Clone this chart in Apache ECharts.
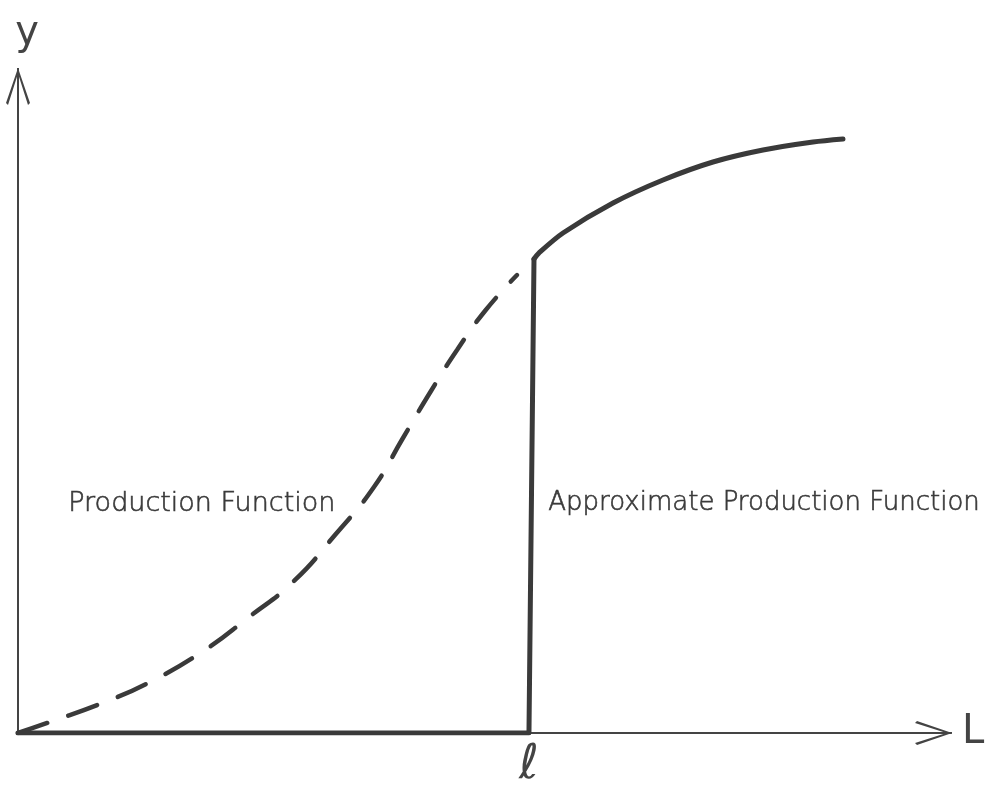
<!DOCTYPE html>
<html>
<head>
<meta charset="utf-8">
<script src="https://cdn.jsdelivr.net/npm/echarts@6/dist/echarts.min.js"></script>
<style>html,body{margin:0;padding:0;background:#fff}#c{width:1003px;height:795px}</style>
</head>
<body>
<div id="c"></div>
<script>
// Conceptual diagram: data units 0..100 on both axes
var xName = 'L';
var yName = 'y';
var ellLabel = 'ℓ';
var ellX = [56.9];
// S-shaped production function (dashed)
var prodX = [0, 3.56, 9.69, 14.70, 20.82, 25.72, 30.62, 35.30, 39.64, 42.87, 45.99, 48.89, 52.00, 55.57];
var prodY = [0, 1.75, 4.93, 8.11, 13.20, 18.44, 24.01, 31.48, 39.11, 46.90, 54.37, 60.89, 67.09, 72.81];
// Approximate production function: step part
var stepX = [0, 56.9, 57.46];
var stepY = [0, 0, 75.36];
// Approximate production function: concave part
var concX = [57.46, 58.0, 60.69, 66.26, 71.83, 77.39, 82.96, 88.53, 91.87];
var concY = [75.36, 76.3, 79.49, 84.26, 87.92, 90.78, 92.69, 93.96, 94.44];
var textLeft = 'Production Function';
var textRight = 'Approximate Production Function';

function zip(a, b) { return a.map(function (v, i) { return [v, b[i]]; }); }

var arrowPath = 'path://M11,0 L13,0 L13,72 L11,72 Z M12,0 L24,35 L22,37 L11.5,4 Z M12,0 L12.5,4 L2,37 L0,35 Z';
var ink = '#3a3a3a';
var axisInk = '#444';
var textInk = '#3a3a3a';
var font = 'DejaVu Sans';

var chart = echarts.init(document.getElementById('c'));
chart.setOption({
  animation: false,
  backgroundColor: '#fff',
  grid: { left: 18, right: 87, top: 104, bottom: 62 },
  xAxis: {
    type: 'value', min: 0, max: 100,
    name: xName, nameLocation: 'end', nameGap: 46,
    nameTextStyle: { fontFamily: font, fontSize: 40, color: axisInk, verticalAlign: 'middle' },
    axisLine: { show: true, symbol: ['none', arrowPath], symbolSize: [24, 72], lineStyle: { color: axisInk, width: 2 } },
    axisTick: { show: false },
    splitLine: { show: false },
    axisLabel: {
      show: true, customValues: ellX, formatter: function () { return ellLabel; },
      fontFamily: font, fontSize: 48, color: axisInk, margin: 9
    }
  },
  yAxis: {
    type: 'value', min: 0, max: 100,
    name: yName, nameLocation: 'end', nameGap: 50,
    nameTextStyle: { fontFamily: font, fontSize: 40, color: axisInk, align: 'center', padding: [0, 0, 0, 18] },
    axisLine: { show: true, symbol: ['none', arrowPath], symbolSize: [24, 72], lineStyle: { color: axisInk, width: 2 } },
    axisTick: { show: false },
    splitLine: { show: false },
    axisLabel: { show: false }
  },
  series: [
    {
      type: 'line', name: textLeft, data: zip(prodX, prodY), smooth: true, showSymbol: false,
      lineStyle: { color: ink, width: 4.5, type: [31, 22], cap: 'round' }, z: 3
    },
    {
      type: 'line', name: textRight + ' (step)', data: zip(stepX, stepY), smooth: false, showSymbol: false,
      lineStyle: { color: ink, width: 5, join: 'round', cap: 'round' }, z: 4
    },
    {
      type: 'line', name: textRight, data: zip(concX, concY), smooth: 0.3, showSymbol: false,
      lineStyle: { color: ink, width: 5, cap: 'round' }, z: 4
    }
  ],
  graphic: [
    { type: 'text', left: 68, top: 490, style: { text: textLeft, fontFamily: font, fontSize: 27, fontWeight: 200, fill: textInk, stroke: textInk, lineWidth: 0.6 } },
    { type: 'text', left: 548, top: 490, style: { text: textRight, fontFamily: font, fontSize: 26, fontWeight: 200, fill: textInk, stroke: textInk, lineWidth: 0.6 } }
  ]
});
</script>
</body>
</html>
